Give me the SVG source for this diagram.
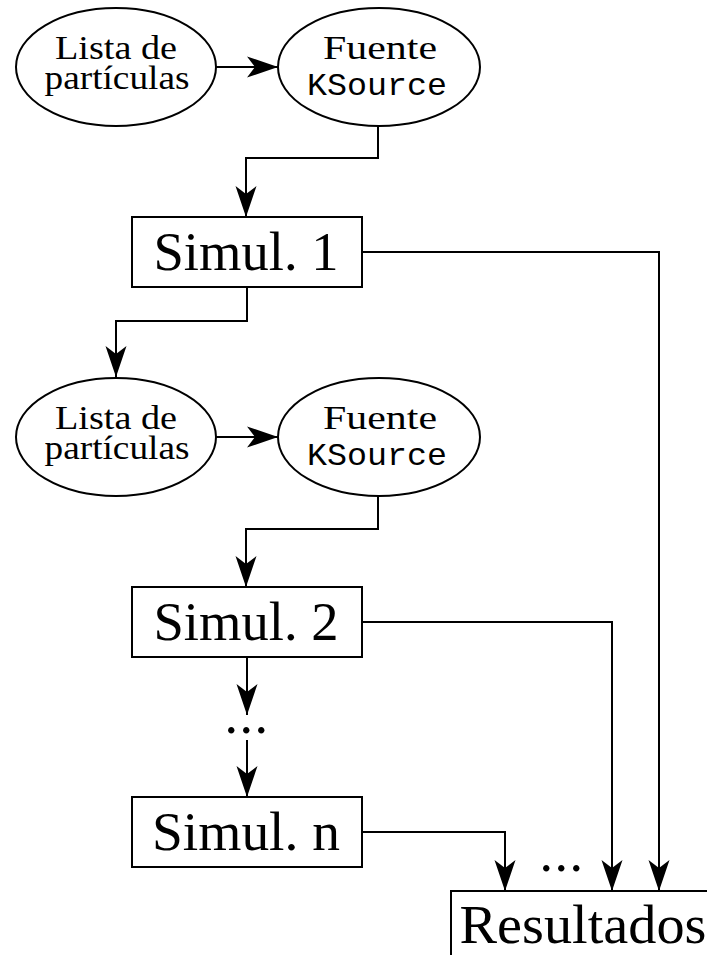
<svg xmlns="http://www.w3.org/2000/svg" width="707" height="955" viewBox="0 0 707 955">
  <style>
    .shape { fill: #fff; stroke: #000; stroke-width: 2; }
    .wire { fill: none; stroke: #000; stroke-width: 2; }
    .rm { font-family: "Liberation Serif", "DejaVu Serif", serif; fill: #000; text-anchor: middle; }
    .tt { font-family: "Liberation Mono", "DejaVu Sans Mono", monospace; fill: #000; text-anchor: middle; }
    .small { font-size: 34px; }
    .big { font-size: 54px; }
    .code { font-size: 32px; }
  </style>
  <defs>
    <marker id="stealth" markerUnits="userSpaceOnUse" markerWidth="34" markerHeight="24" viewBox="-32 -12 34 24" refX="0" refY="0" orient="auto">
      <path d="M0,0 L-31,-10.5 L-23,0 L-31,10.5 Z" fill="#000"/>
    </marker>
  </defs>

  <rect width="707" height="955" fill="#fff"/>

  <!-- connectors -->
  <g id="connectors">
    <line class="wire" x1="216" y1="67" x2="278" y2="67" marker-end="url(#stealth)"/>
    <polyline class="wire" points="378,126 378,158 246,158 246,217" marker-end="url(#stealth)"/>
    <polyline class="wire" points="362,252 659,252 659,891" marker-end="url(#stealth)"/>
    <polyline class="wire" points="247,287 247,321 116,321 116,377" marker-end="url(#stealth)"/>
    <line class="wire" x1="216" y1="437" x2="278" y2="437" marker-end="url(#stealth)"/>
    <polyline class="wire" points="378,496 378,529 246,529 246,587" marker-end="url(#stealth)"/>
    <polyline class="wire" points="362,622 612,622 612,891" marker-end="url(#stealth)"/>
    <line class="wire" x1="247" y1="657" x2="247" y2="715" marker-end="url(#stealth)"/>
    <line class="wire" x1="247" y1="740" x2="247" y2="797" marker-end="url(#stealth)"/>
    <polyline class="wire" points="362,832 505,832 505,891" marker-end="url(#stealth)"/>
    <text class="rm big" x="247" y="733" letter-spacing="1.5">...</text>
    <text class="rm big" x="562" y="871" letter-spacing="1.5">...</text>
  </g>

  <!-- first stage -->
  <g id="lista1">
    <ellipse class="shape" cx="116" cy="67" rx="100" ry="59"/>
    <text class="rm small" x="116" y="59" textLength="122" lengthAdjust="spacingAndGlyphs">Lista de</text>
    <text class="rm small" x="117" y="89" textLength="145" lengthAdjust="spacingAndGlyphs">partículas</text>
  </g>
  <g id="fuente1">
    <ellipse class="shape" cx="379" cy="67" rx="101" ry="59"/>
    <text class="rm small" x="380" y="59" textLength="114" lengthAdjust="spacingAndGlyphs">Fuente</text>
    <text class="tt code" x="377" y="95" textLength="140" lengthAdjust="spacingAndGlyphs">KSource</text>
  </g>
  <g id="simul1">
    <rect class="shape" x="132" y="217" width="230" height="70"/>
    <text class="rm big" x="246" y="270" textLength="185" lengthAdjust="spacingAndGlyphs">Simul. 1</text>
  </g>

  <!-- second stage -->
  <g id="lista2">
    <ellipse class="shape" cx="116" cy="437" rx="100" ry="59"/>
    <text class="rm small" x="116" y="429" textLength="122" lengthAdjust="spacingAndGlyphs">Lista de</text>
    <text class="rm small" x="117" y="459" textLength="145" lengthAdjust="spacingAndGlyphs">partículas</text>
  </g>
  <g id="fuente2">
    <ellipse class="shape" cx="379" cy="437" rx="101" ry="59"/>
    <text class="rm small" x="380" y="429" textLength="114" lengthAdjust="spacingAndGlyphs">Fuente</text>
    <text class="tt code" x="377" y="465" textLength="140" lengthAdjust="spacingAndGlyphs">KSource</text>
  </g>
  <g id="simul2">
    <rect class="shape" x="132" y="587" width="230" height="70"/>
    <text class="rm big" x="246" y="640" textLength="185" lengthAdjust="spacingAndGlyphs">Simul. 2</text>
  </g>

  <!-- last stage -->
  <g id="simuln">
    <rect class="shape" x="132" y="797" width="230" height="70"/>
    <text class="rm big" x="246" y="850" textLength="188" lengthAdjust="spacingAndGlyphs">Simul. n</text>
  </g>

  <!-- output box, runs past the page edge -->
  <g id="resultados">
    <rect class="shape" x="451" y="891" width="300" height="100"/>
    <text class="rm big" x="583" y="943" textLength="247" lengthAdjust="spacingAndGlyphs">Resultados</text>
  </g>
</svg>
